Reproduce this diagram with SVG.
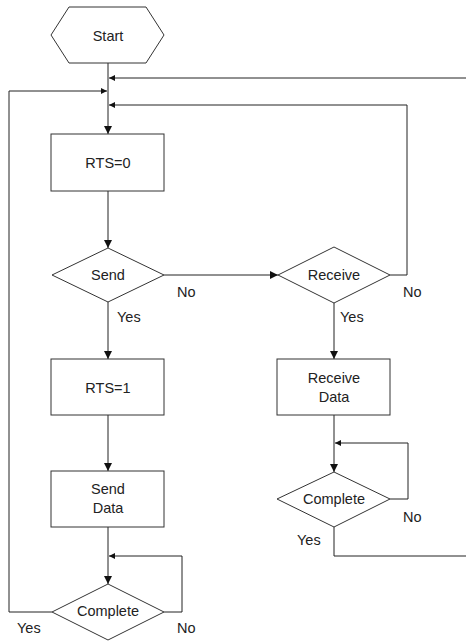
<svg xmlns="http://www.w3.org/2000/svg" width="466" height="641" viewBox="0 0 466 641">
<style>
.shape{fill:#fff;stroke:#333;stroke-width:1}
.conn{fill:none;stroke:#222;stroke-width:1}
text{font-family:"Liberation Sans",Arial,sans-serif;font-size:14.5px;fill:#222}
.c{text-anchor:middle}
</style>
<defs>
<marker id="big" markerUnits="userSpaceOnUse" markerWidth="10" markerHeight="10" refX="8" refY="4" orient="auto">
<path d="M0,0 L8,4 L0,8 Z" fill="#111"/>
</marker>
<marker id="small" markerUnits="userSpaceOnUse" markerWidth="8" markerHeight="8" refX="6" refY="3" orient="auto">
<path d="M0,0 L6,3 L0,6 Z" fill="#111"/>
</marker>
</defs>
<rect width="466" height="641" fill="#fff"/>
<g id="connectors">
<path class="conn" d="M108,63 V134" marker-end="url(#big)"/>
<path class="conn" d="M466,78 H109" marker-end="url(#small)"/>
<path class="conn" d="M52,612 H9 V91 H107" marker-end="url(#small)"/>
<path class="conn" d="M390,275 H407 V105 H109" marker-end="url(#small)"/>
<path class="conn" d="M108,191 V248" marker-end="url(#big)"/>
<path class="conn" d="M164,275 H278" marker-end="url(#big)"/>
<path class="conn" d="M108,302 V359" marker-end="url(#big)"/>
<path class="conn" d="M334,303 V359" marker-end="url(#big)"/>
<path class="conn" d="M108,415 V471" marker-end="url(#big)"/>
<path class="conn" d="M108,527 V584" marker-end="url(#big)"/>
<path class="conn" d="M164,612 H182 V556 H109" marker-end="url(#small)"/>
<path class="conn" d="M334,415 V472" marker-end="url(#big)"/>
<path class="conn" d="M390,499 H408 V443 H335" marker-end="url(#small)"/>
<path class="conn" d="M334,527 V556 H466"/>
</g>
<g id="start">
<polygon class="shape" points="51,35 69,7 146,7 164,35 146,63 69,63"/>
<text class="c" x="108" y="41">Start</text>
</g>
<g id="rts0">
<rect class="shape" x="51" y="134" width="113" height="57"/>
<text class="c" x="108" y="168">RTS=0</text>
</g>
<g id="send">
<polygon class="shape" points="52,275 108,248 164,275 108,302"/>
<text class="c" x="108" y="280">Send</text>
</g>
<g id="receive">
<polygon class="shape" points="278,275 334,247 390,275 334,303"/>
<text class="c" x="334" y="280">Receive</text>
</g>
<g id="rts1">
<rect class="shape" x="51" y="359" width="113" height="56"/>
<text class="c" x="108" y="393">RTS=1</text>
</g>
<g id="receivedata">
<rect class="shape" x="277" y="359" width="113" height="56"/>
<text class="c" x="334" y="383">Receive</text>
<text class="c" x="334" y="402">Data</text>
</g>
<g id="senddata">
<rect class="shape" x="51" y="471" width="113" height="56"/>
<text class="c" x="108" y="494">Send</text>
<text class="c" x="108" y="513">Data</text>
</g>
<g id="complete1">
<polygon class="shape" points="277,499 334,472 390,499 334,527"/>
<text class="c" x="334" y="504">Complete</text>
</g>
<g id="complete2">
<polygon class="shape" points="52,612 108,584 164,612 108,640"/>
<text class="c" x="108" y="616">Complete</text>
</g>
<g id="labels">
<text x="177" y="297">No</text>
<text x="117" y="322">Yes</text>
<text x="403" y="297">No</text>
<text x="340" y="322">Yes</text>
<text x="403" y="522">No</text>
<text x="297" y="545">Yes</text>
<text x="17" y="633">Yes</text>
<text x="177" y="633">No</text>
</g>
</svg>
